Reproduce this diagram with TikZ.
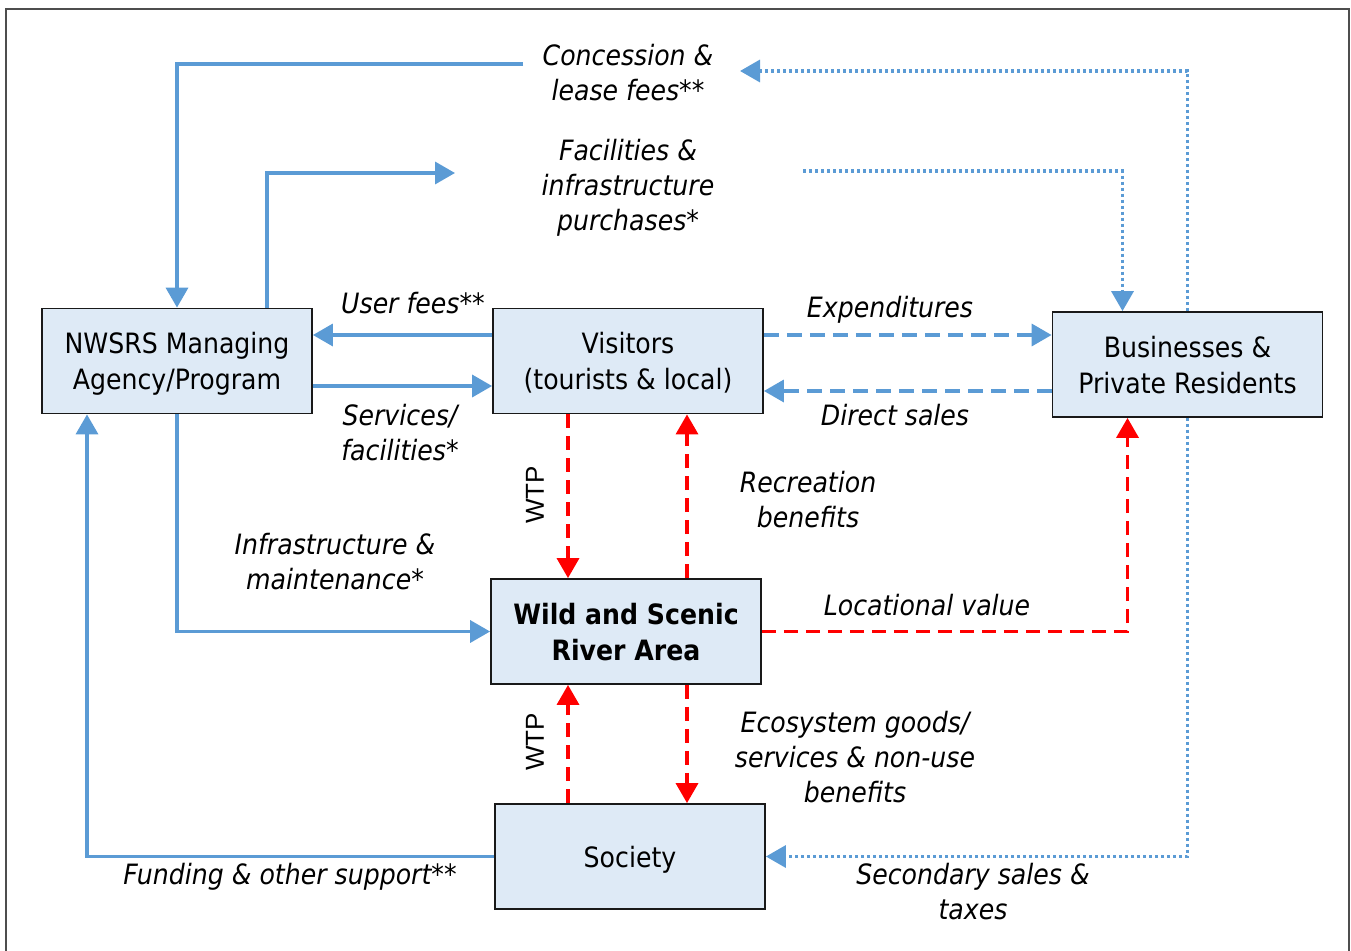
\documentclass[tikz,border=0pt]{standalone}
\usepackage{fontspec}
\setmainfont{DejaVu Sans}[FakeStretch=0.9]
\newfontfamily\wtpfont{Liberation Sans}
\usetikzlibrary{arrows.meta,calc}
\definecolor{lblue}{HTML}{5B9BD5}
\definecolor{boxfill}{HTML}{DEEAF6}
\definecolor{framegray}{HTML}{4D4D4D}
\begin{document}
\begin{tikzpicture}[x=1pt,y=-1pt,
  box/.style={draw=black!90, line width=1.8pt, fill=boxfill, minimum width=270pt, minimum height=105pt, inner sep=0pt, text depth=0pt, align=center, font=\fontsize{28}{36}\selectfont},
  lbl/.style={inner sep=0pt, align=center, font=\fontsize{28}{35}\selectfont\itshape},
  tip/.style={-{Triangle[length=20pt,width=22pt]}},
  bl/.style={draw=lblue, line width=3.5pt},
  bldash/.style={draw=lblue, line width=3.5pt, dash pattern=on 15pt off 8pt},
  bldot/.style={draw=lblue, line width=3.4pt, dash pattern=on 3pt off 3pt},
  rdash/.style={draw=red, line width=3.5pt, dash pattern=on 14pt off 8pt},
  wtp/.style={inner sep=0pt, rotate=90, font=\fontsize{26}{30}\selectfont\wtpfont}
]
\useasboundingbox (0,0) rectangle (1351,950);
\draw[framegray, line width=2pt] (6,9) rectangle (1349,970);

% boxes
\node[box] (nw)  at (177,361)   {NWSRS Managing\\Agency/Program};
\node[box] (vis) at (628,361)   {Visitors\\(tourists \& local)};
\node[box] (bus) at (1187.5,364.5) {Businesses \&\\Private Residents};
\node[box] (wsr) at (626,631.5) {\bfseries Wild and Scenic\\\bfseries River Area};
\node[box] (soc) at (630,856.5) {Society};

% labels
\node[lbl] (lconc) at (628,73)  {Concession \&\\lease fees**};
\node[lbl] (lfac)  at (628,188) {Facilities \&\\infrastructure\\purchases*};
\node[lbl] (luser) at (413,303) {User fees**};
\node[lbl] (lserv) at (400,433) {Services/\\facilities*};
\node[lbl] (lexp)  at (890,310) {Expenditures};
\node[lbl] (ldir)  at (895,415) {Direct sales};
\node[lbl] (lrec)  at (808,500) {Recreation\\benefits};
\node[lbl] (linf)  at (335,562) {Infrastructure \&\\maintenance*};
\node[lbl] (lloc)  at (927,605) {Locational value};
\node[lbl] (leco)  at (855,757) {Ecosystem goods/\\services \& non-use\\benefits};
\node[lbl] (lfund) at (290,877) {Funding \& other support**};
\node[lbl] (lsec)  at (973,892) {Secondary sales \&\\taxes};
\node[wtp] (w1) at (535,495) {WTP};
\node[wtp] (w2) at (535,742) {WTP};

% free ends
\coordinate (c1) at (523,64);
\coordinate (c2) at (740,71);
\coordinate (c3) at (455,173);
\coordinate (c4) at (803,171);

% blue solid
\draw[bl,tip] (c1) -| (nw.north);
\draw[bl,tip] ([xshift=90pt]nw.north) |- (c3);
\draw[bl,tip] ([yshift=26pt]vis.west) -- ([yshift=26pt]vis.west -| nw.east);
\draw[bl,tip] ([yshift=-25pt]nw.east) -- ([yshift=-25pt]nw.east -| vis.west);
\draw[bl,tip] (nw.south) |- (wsr.west);
\draw[bl,tip] (soc.west) -| ([xshift=-90pt]nw.south);

% blue dashed
\draw[bldash,tip] ([yshift=26pt]vis.east) -- ([yshift=26pt]vis.east -| bus.west);
\draw[bldash,tip] ([yshift=-26.5pt]bus.west) -- ([yshift=-26.5pt]bus.west -| vis.east);

% blue dotted
\draw[bldot,tip] (bus.north) |- (c2);
\draw[bldot,tip] (c4) -| ([xshift=-65pt]bus.north);
\draw[bldot,tip] (bus.south) |- (soc.east);

% red dashed
\draw[rdash,tip] ([xshift=-60pt]vis.south) -- ([xshift=-60pt]vis.south |- wsr.north);
\draw[rdash,tip] ([xshift=61pt]wsr.north) -- ([xshift=61pt]wsr.north |- vis.south);
\draw[rdash,tip] (wsr.east) -| ([xshift=-60pt]bus.south);
\draw[rdash,tip] ([xshift=-62pt]soc.north) -- ([xshift=-62pt]soc.north |- wsr.south);
\draw[rdash,tip] ([xshift=61pt]wsr.south) -- ([xshift=61pt]wsr.south |- soc.north);
\end{tikzpicture}
\end{document}
